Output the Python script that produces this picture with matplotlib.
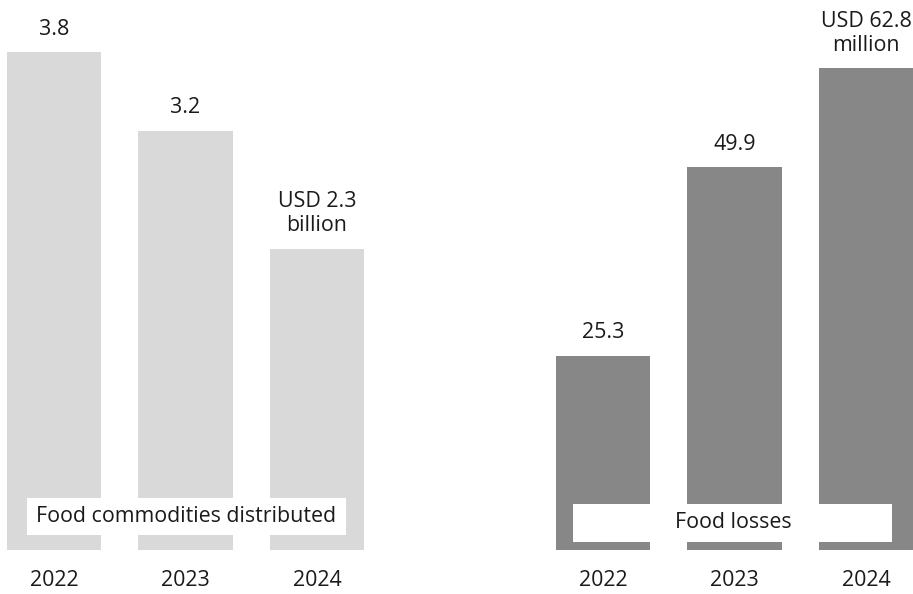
import matplotlib
matplotlib.use("Agg")
import matplotlib.pyplot as plt
from matplotlib.patches import Rectangle

years = ["2022", "2023", "2024"]
commodities = [3.8, 3.2, 2.3]          # USD billion
commodity_labels = ["3.8", "3.2", "USD 2.3\nbillion"]
losses = [25.3, 49.9, 62.8]            # USD million
loss_labels = ["25.3", "49.9", "USD 62.8\nmillion"]

W, H = 913, 594
plt.rcParams["font.family"] = ["Open Sans", "DejaVu Sans"]
TXT = "#1a1a1a"
FS = 15.4

fig = plt.figure(figsize=(W / 100, H / 100), dpi=100)


def px_axes(x0, x1, y0, y1):
    return fig.add_axes([x0 / W, 1 - y1 / H, (x1 - x0) / W, (y1 - y0) / H])


def panel(ax, values, labels, color, ymax, xlim):
    xs = range(len(values))
    bars = ax.bar(xs, values, width=0.715, color=color, zorder=1)
    for b, lab in zip(bars, labels):
        ax.annotate(lab, (b.get_x() + b.get_width() / 2, b.get_height()),
                    xytext=(0, 9), textcoords="offset points",
                    ha="center", va="bottom", fontsize=FS, color=TXT,
                    linespacing=1.2)
    for x, yr in zip(xs, years):
        ax.annotate(yr, (x, 0), xytext=(0, -22), textcoords="offset points",
                    ha="center", va="center", fontsize=FS, color=TXT,
                    annotation_clip=False)
    ax.set_xlim(*xlim)
    ax.set_ylim(0, ymax)
    ax.axis("off")


ax1 = px_axes(0, 371, 0, 550)
panel(ax1, commodities, commodity_labels, "#d9d9d9", 550 / 131.0,
      ((0 - 54) / 131.5, (371 - 54) / 131.5))

ax2 = px_axes(545, 913, 0, 550)
panel(ax2, losses, loss_labels, "#878787", 550 / 7.67,
      ((545 - 603) / 131.5, (913 - 603) / 131.5))


def label_box(x0, y0, x1, y1, text, tx, ty):
    fig.patches.append(Rectangle((x0 / W, 1 - y1 / H), (x1 - x0) / W,
                                 (y1 - y0) / H, transform=fig.transFigure,
                                 facecolor="white", edgecolor="none",
                                 zorder=2))
    fig.text(tx / W, 1 - ty / H, text, ha="center", va="center",
             fontsize=FS, color=TXT, zorder=3)


label_box(27, 498, 346, 535, "Food commodities distributed", 186, 517)
label_box(573, 504, 892, 542, "Food losses", 733, 523)

fig.savefig("out.png", dpi=100)
